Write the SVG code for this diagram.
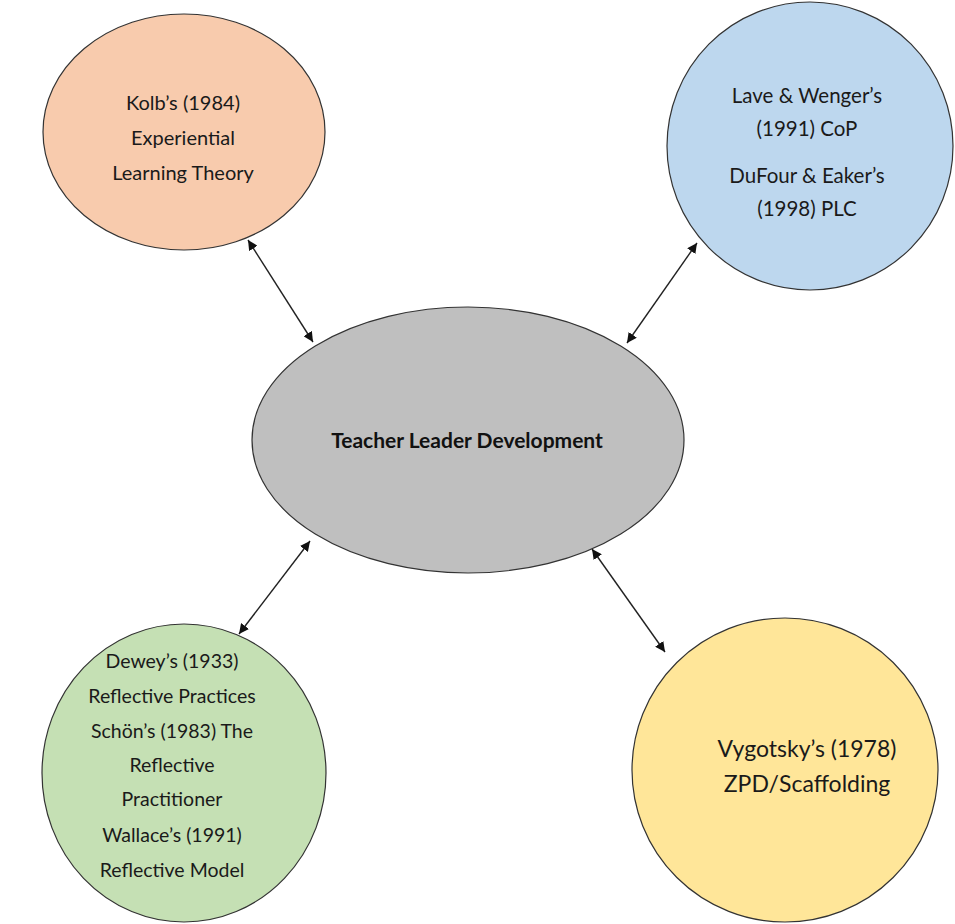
<svg xmlns="http://www.w3.org/2000/svg" width="955" height="924" viewBox="0 0 955 924">
<defs>
<marker id="ah" viewBox="0 0 10 10" refX="10" refY="5" markerWidth="10" markerHeight="10" markerUnits="userSpaceOnUse" orient="auto-start-reverse">
<path d="M0,0 L10,5 L0,10 z" fill="#111"/>
</marker>
<style>
.node{stroke:#333;stroke-width:1.2}
.t{font-family:Lato,"Open Sans","Liberation Sans",sans-serif;font-size:20px;fill:#1a1a1a;text-anchor:middle}
.b{font-weight:bold;font-size:21px;fill:#111}
.c{stroke:#222;stroke-width:1.4;fill:none;marker-start:url(#ah);marker-end:url(#ah)}
</style>
</defs>
<rect width="955" height="924" fill="#fff"/>
<g id="connectors">
<line class="c" x1="248" y1="240" x2="313" y2="342"/>
<line class="c" x1="697" y1="243" x2="627" y2="343"/>
<line class="c" x1="310" y1="541" x2="239" y2="634"/>
<line class="c" x1="592" y1="549" x2="665" y2="652"/>
</g>
<g id="kolb">
<ellipse class="node" cx="184" cy="132" rx="141" ry="118" fill="#F8CBAD"/>
<text class="t" x="183" y="110">Kolb’s (1984)</text>
<text class="t" x="183" y="145">Experiential</text>
<text class="t" x="183" y="180">Learning Theory</text>
</g>
<g id="cop">
<ellipse class="node" cx="810" cy="146" rx="143" ry="144" fill="#BDD7EE"/>
<text class="t" x="807" y="103" style="font-size:20.5px">Lave &amp; Wenger’s</text>
<text class="t" x="807" y="136" style="font-size:20.5px">(1991) CoP</text>
<text class="t" x="807" y="183" style="font-size:20.5px">DuFour &amp; Eaker’s</text>
<text class="t" x="807" y="216" style="font-size:20.5px">(1998) PLC</text>
</g>
<g id="center">
<ellipse class="node" cx="468" cy="440" rx="216" ry="133" fill="#BFBFBF"/>
<text class="t b" x="467" y="448">Teacher Leader Development</text>
</g>
<g id="reflective">
<ellipse class="node" cx="184" cy="773" rx="142" ry="149" fill="#C5E0B4"/>
<text class="t" x="172" y="668" style="font-size:19.5px">Dewey’s (1933)</text>
<text class="t" x="172" y="703" style="font-size:19.5px">Reflective Practices</text>
<text class="t" x="172" y="738" style="font-size:19.5px">Schön’s (1983) The</text>
<text class="t" x="172" y="772" style="font-size:19.5px">Reflective</text>
<text class="t" x="172" y="806" style="font-size:19.5px">Practitioner</text>
<text class="t" x="172" y="842" style="font-size:19.5px">Wallace’s (1991)</text>
<text class="t" x="172" y="877" style="font-size:19.5px">Reflective Model</text>
</g>
<g id="vygotsky">
<ellipse class="node" cx="785" cy="770" rx="153" ry="152" fill="#FFE699"/>
<text class="t" x="807" y="757" style="font-size:23px">Vygotsky’s (1978)</text>
<text class="t" x="807" y="792" style="font-size:23px">ZPD/Scaffolding</text>
</g>
</svg>
